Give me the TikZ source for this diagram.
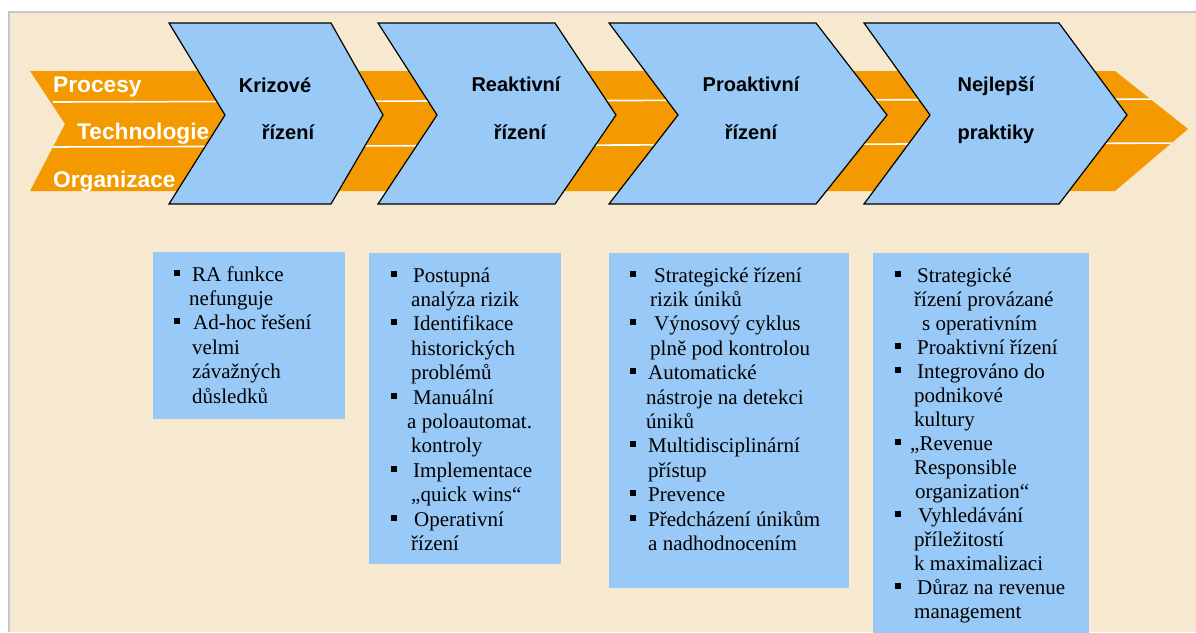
\documentclass[tikz,border=0pt]{standalone}
\usepackage{fontspec}
\setmainfont{Liberation Serif}
\newfontfamily\arialf{Liberation Sans}
\definecolor{bgc}{HTML}{F7E8D0}
\definecolor{orangec}{HTML}{F49A00}
\definecolor{bluec}{HTML}{99C9F6}
\definecolor{borderc}{HTML}{C8C8C8}
\newcommand\myb[1]{\makebox[#1pt][l]{\rule[5.5pt]{6pt}{6pt}}}
\newcommand\myi[1]{\hspace*{#1pt}}
\tikzset{
  chev/.style={fill=bluec, draw=black, line width=1.2pt, line join=miter},
  chevtxt/.style={font=\arialf\bfseries\fontsize{20}{24}\selectfont, anchor=base, inner sep=0pt, text=black},
  lbl/.style={font=\arialf\bfseries\fontsize{22.7}{26}\selectfont, anchor=base west, inner sep=0pt, text=white},
  boxn/.style={fill=bluec, draw=none, inner sep=0pt, anchor=north west},
  boxtxt/.style={font=\fontsize{21}{24.4}\selectfont, align=left, inner sep=0pt, anchor=north west},
  boxtxtb/.style={font=\fontsize{21}{24}\selectfont, align=left, inner sep=0pt, anchor=north west},
}
\begin{document}
\begin{tikzpicture}[x=1pt, y=-1pt]
\useasboundingbox (0,0) rectangle (1196,632);
\fill[white] (0,0) rectangle (1196,632);
\fill[bgc] (9,12) rectangle (1196,632);
\draw[borderc, line width=1.5pt] (9,632) -- (9,12) -- (1196,12);

% orange band
\fill[orangec] (30,71) -- (1115,71) -- (1188,129) -- (1115,191) -- (30,191) -- (65,124) -- cycle;
\begin{scope}
  \clip (30,71) -- (1115,71) -- (1188,129) -- (1115,191) -- (30,191) -- (65,124) -- cycle;
  \draw[white, line width=1.6pt] (53,102) -- (1196,99);
  \draw[white, line width=1.6pt] (53,147) -- (1196,143);
\end{scope}

% band labels
\node[lbl] (procesy) at (53,92) {Procesy};
\node[lbl] (techn) at (77,139) {Technologie};
\node[lbl] (org) at (53,187) {Organizace};

% chevrons
\foreach \a/\b/\c/\d in {169/225/331/383, 378/437/555/616, 609/678/816/887, 864/930/1059/1127} {
  \draw[chev] (\a,23) -- (\c,23) -- (\d,115) -- (\c,204) -- (\a,204) -- (\b,115) -- cycle;
}
\node[chevtxt] (c1a) at (275,92) {Krizové};
\node[chevtxt] (c1b) at (288,139) {řízení};
\node[chevtxt] (c2a) at (516,91) {Reaktivní};
\node[chevtxt] (c2b) at (520,139) {řízení};
\node[chevtxt] (c3a) at (751,91) {Proaktivní};
\node[chevtxt] (c3b) at (751,139) {řízení};
\node[chevtxt] (c4a) at (996,91) {Nejlepší};
\node[chevtxt] (c4b) at (996,139) {praktiky};

% boxes
\node[boxn, minimum width=192pt, minimum height=167pt] (b1) at (153,252) {};
\node[boxn, minimum width=192pt, minimum height=311pt] (b2) at (369,253) {};
\node[boxn, minimum width=240pt, minimum height=335pt] (b3) at (609,253) {};
\node[boxn, minimum width=216pt, minimum height=380pt] (b4) at (873,253) {};

\node[boxtxt] (t1) at (174,263.9) {\strut\myb{18}RA funkce\\
\myi{15}nefunguje\\
\myb{19}Ad-hoc řešení\\
\myi{18}velmi\\
\myi{18}závažných\\
\myi{18}důsledků};

\node[boxtxt] (t2) at (391,264.9) {\strut\myb{22}Postupná\\
\myi{20}analýza rizik\\
\myb{22}Identifikace\\
\myi{20}historických\\
\myi{20}problémů\\
\myb{22}Manuální\\
\myi{16}a poloautomat.\\
\myi{20}kontroly\\
\myb{22}Implementace\\
\myi{20}„quick wins“\\
\myb{23}Operativní\\
\myi{20}řízení};

\node[boxtxt] (t3) at (630,264.9) {\strut\myb{24}Strategické řízení\\
\myi{20}rizik úniků\\
\myb{24}Výnosový cyklus\\
\myi{20}plně pod kontrolou\\
\myb{18}Automatické\\
\myi{16}nástroje na detekci\\
\myi{16}úniků\\
\myb{18}Multidisciplinární\\
\myi{18}přístup\\
\myb{18}Prevence\\
\myb{18}Předcházení únikům\\
\myi{18}a nadhodnocením};

\node[boxtxtb] (t4) at (895,265.2) {\strut\myb{22}Strategické\\
\myi{19}řízení provázané\\
\myi{27}s operativním\\
\myb{22}Proaktivní řízení\\
\myb{22}Integrováno do\\
\myi{19}podnikové\\
\myi{19}kultury\\
\myb{15}„Revenue\\
\myi{19}Responsible\\
\myi{20}organization“\\
\myb{23}Vyhledávání\\
\myi{19}příležitostí\\
\myi{19}k maximalizaci\\
\myb{22}Důraz na revenue\\
\myi{19}management};
\end{tikzpicture}
\end{document}
